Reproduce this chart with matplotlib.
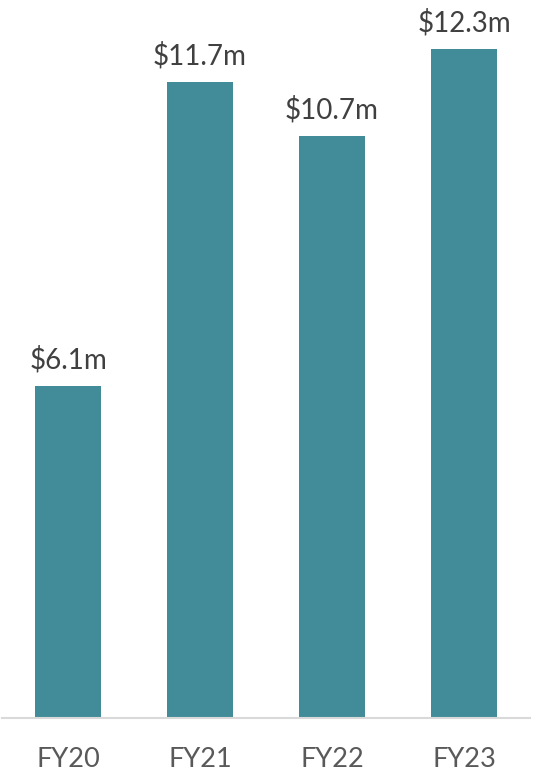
import matplotlib.pyplot as plt

# values ($m)
years = ['FY20', 'FY21', 'FY22', 'FY23']
revenue = [6.1, 11.7, 10.7, 12.3]
labels = ['$6.1m', '$11.7m', '$10.7m', '$12.3m']

plt.rcParams['font.family'] = ['Lato', 'DejaVu Sans']

fig = plt.figure(figsize=(5.38, 7.79), dpi=100)
ax = fig.add_axes([2 / 538, 61 / 779, 528 / 538, 718 / 779])

x = range(len(years))
bars = ax.bar(x, revenue, width=0.5, color='#418C98')

for b, lab in zip(bars, labels):
    ax.annotate(lab, (b.get_x() + b.get_width() / 2, b.get_height()),
                xytext=(0, 9), textcoords='offset points',
                ha='center', va='bottom', fontsize=20, color='#404040')

ax.set_xlim(-0.5, 3.5)
ax.set_ylim(0, 13.2)
ax.set_xticks(list(x))
ax.set_xticklabels(years, fontsize=19.5, color='#595959')
ax.tick_params(axis='x', length=0, pad=21)
ax.set_yticks([])
for s in ['top', 'right', 'left']:
    ax.spines[s].set_visible(False)
ax.spines['bottom'].set_color('#D9D9D9')
ax.spines['bottom'].set_linewidth(1.5)

fig.savefig('out.png', dpi=100)
